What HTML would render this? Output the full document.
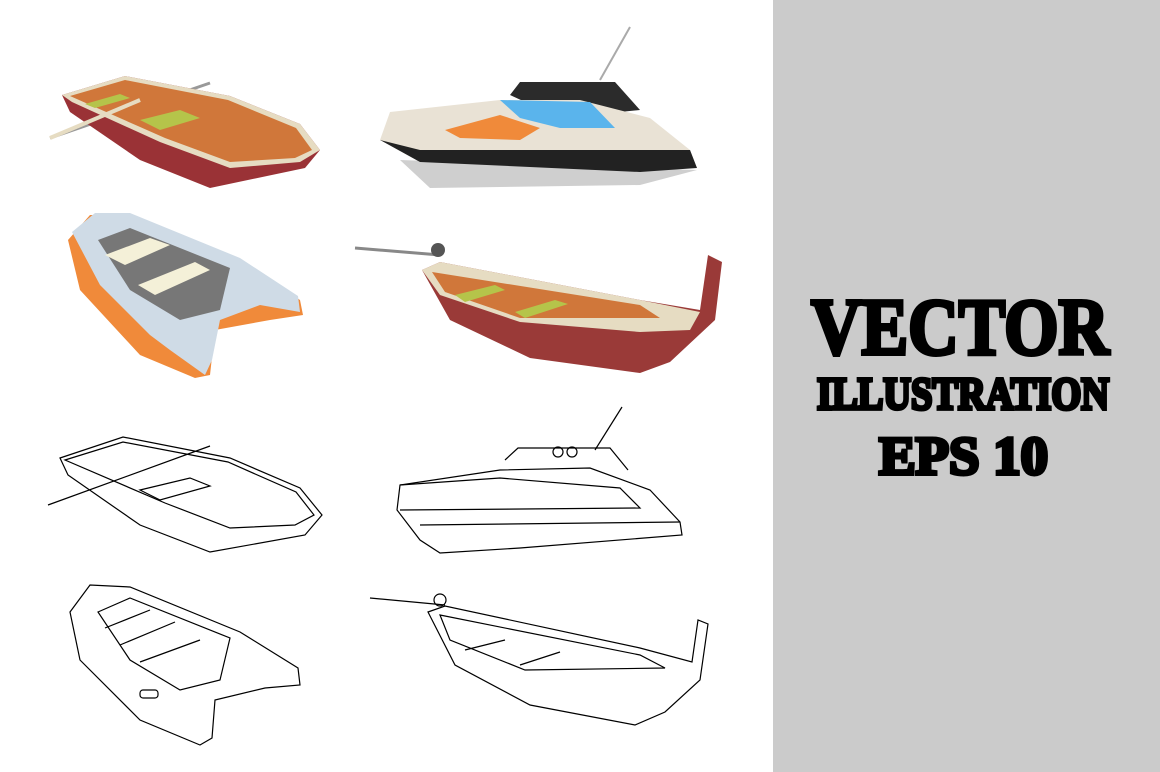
<!DOCTYPE html>
<html><head><meta charset="utf-8"><style>
html,body{margin:0;padding:0;background:#fff;}
svg{display:block;}
</style></head><body>
<svg width="1160" height="772" viewBox="0 0 1160 772" xmlns="http://www.w3.org/2000/svg">
<rect x="0" y="0" width="1160" height="772" fill="#fff"/>
<rect x="773" y="0" width="387" height="772" fill="#cbcbcb"/>
<g font-family="Liberation Serif, serif" font-weight="bold" fill="#000" stroke="#000" stroke-width="4" stroke-linejoin="miter">
<text x="811" y="354" font-size="80" textLength="298" lengthAdjust="spacingAndGlyphs">VECTOR</text>
<text x="817" y="409" font-size="46" textLength="292" lengthAdjust="spacingAndGlyphs">ILLUSTRATION</text>
<text x="879" y="474" font-size="54" textLength="169" lengthAdjust="spacingAndGlyphs">EPS 10</text>
</g>

<g>
<line x1="50" y1="138" x2="210" y2="83" stroke="#999" stroke-width="3"/>
<path d="M62,95 L125,76 L230,96 L300,124 L320,150 L305,168 L210,188 L140,160 L70,112 Z" fill="#9a3236"/>
<path d="M62,95 L125,76 L230,96 L300,124 L320,150 L300,162 L230,168 L160,142 L72,102 Z" fill="#e6dcc2"/>
<path d="M70,96 L125,80 L228,100 L296,128 L312,150 L295,158 L230,162 L165,138 Z" fill="#d0773a"/>
<path d="M140,120 L180,110 L200,118 L160,130 Z" fill="#b5c44a"/>
<path d="M85,104 L120,94 L130,98 L95,108 Z" fill="#b5c44a"/>
<line x1="50" y1="138" x2="140" y2="100" stroke="#e6dcc2" stroke-width="4"/>
</g>

<g>
<path d="M400,160 L697,170 L640,185 L430,188 Z" fill="#cfcfcf"/>
<line x1="600" y1="80" x2="630" y2="27" stroke="#aaa" stroke-width="2"/>
<path d="M510,95 L520,82 L615,82 L640,110 L560,118 Z" fill="#2b2b2b"/>
<path d="M380,140 L390,112 L500,100 L580,100 L650,118 L690,150 L697,168 L520,162 L420,162 Z" fill="#e9e2d5"/>
<path d="M500,100 L590,102 L615,128 L560,128 L520,118 Z" fill="#5ab4ec"/>
<path d="M445,130 L500,115 L540,128 L520,140 L460,138 Z" fill="#f08a3a"/>
<path d="M380,140 L420,150 L690,150 L697,168 L640,172 L420,162 Z" fill="#222"/>
</g>

<g>
<path d="M68,240 L90,215 L130,215 L240,260 L300,300 L303,315 L270,320 L215,330 L210,375 L195,378 L140,355 L80,290 Z" fill="#f08a3a"/>
<path d="M72,232 L95,213 L130,213 L240,258 L298,296 L300,312 L260,305 L220,320 L212,360 L205,375 L170,350 L150,335 L100,285 Z" fill="#cfdbe6"/>
<path d="M98,240 L130,228 L230,268 L220,310 L180,320 L130,290 Z" fill="#777"/>
<path d="M105,255 L150,238 L170,245 L125,265 Z" fill="#f4f0d8"/>
<path d="M138,285 L195,262 L210,270 L155,295 Z" fill="#f4f0d8"/>
</g>

<g>
<line x1="355" y1="248" x2="440" y2="255" stroke="#888" stroke-width="3"/>
<circle cx="438" cy="250" r="7" fill="#555"/>
<path d="M422,270 L440,262 L640,300 L700,310 L708,255 L722,262 L715,320 L670,362 L640,373 L530,358 L450,320 Z" fill="#9a3a38"/>
<path d="M422,270 L440,262 L640,300 L700,312 L690,330 L640,332 L520,322 L440,295 Z" fill="#e6dcc2"/>
<path d="M432,272 L640,305 L660,318 L520,318 L445,292 Z" fill="#d0773a"/>
<path d="M455,295 L495,285 L505,290 L465,302 Z" fill="#b5c44a"/>
<path d="M515,312 L555,300 L568,304 L525,318 Z" fill="#b5c44a"/>
</g>

<g fill="none" stroke="#000" stroke-width="1.2">
<path d="M60,458 L123,437 L230,458 L300,488 L322,515 L305,535 L210,552 L140,525 L68,475 Z"/>
<path d="M65,460 L123,442 L228,462 L296,492 L314,515 L295,525 L230,528 L165,503 Z"/>
<line x1="48" y1="505" x2="210" y2="446"/>
<path d="M140,490 L190,478 L210,486 L160,500 Z"/>
<line x1="595" y1="450" x2="622" y2="407"/>
<path d="M505,460 L518,448 L610,448 L628,470"/>
<circle cx="558" cy="452" r="5"/><circle cx="572" cy="452" r="5"/>
<path d="M397,510 L400,485 L500,470 L590,468 L650,490 L680,522 L682,535 L520,548 L440,553 L420,540 Z"/>
<path d="M400,485 L500,478 L620,488 L640,508 L400,510"/>
<path d="M420,525 L680,522"/>
<path d="M70,612 L90,585 L130,587 L240,632 L298,668 L300,685 L265,688 L215,700 L212,738 L200,745 L140,720 L80,660 Z"/>
<path d="M98,612 L130,598 L230,638 L220,680 L180,690 L130,660 Z"/>
<path d="M105,628 L150,610 M120,645 L175,622 M140,662 L200,640"/>
<rect x="140" y="690" width="18" height="8" rx="3"/>
<line x1="370" y1="598" x2="445" y2="605"/>
<circle cx="440" cy="600" r="6"/>
<path d="M428,612 L445,606 L640,648 L692,662 L698,620 L708,624 L700,680 L665,712 L635,725 L530,705 L455,665 Z"/>
<path d="M440,615 L640,655 L665,668 L525,670 L450,640 Z"/>
<path d="M465,650 L505,640 M520,665 L560,652"/>
</g>
</svg>
</body></html>
